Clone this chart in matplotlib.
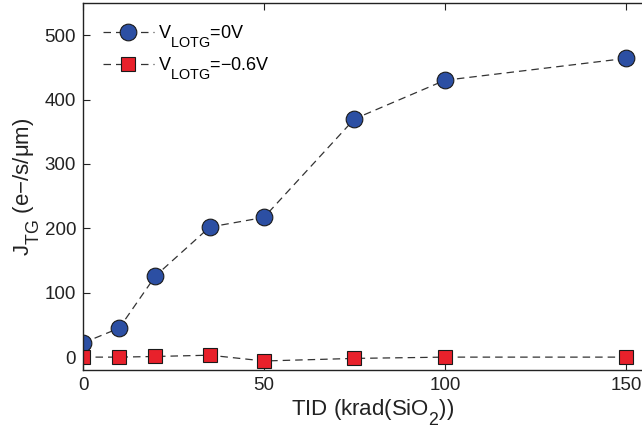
import matplotlib
matplotlib.use("Agg")
import matplotlib.pyplot as plt
import matplotlib._mathtext as mt

mt.SHRINK_FACTOR = 0.8
mt.FontConstantsBase.sub1 = 0.9
mt.FontConstantsBase.sub2 = 0.9

plt.rcParams['font.family'] = ['Liberation Sans', 'DejaVu Sans']
plt.rcParams['mathtext.fontset'] = 'custom'
plt.rcParams['mathtext.rm'] = 'Liberation Sans'
plt.rcParams['mathtext.it'] = 'Liberation Sans:italic'
plt.rcParams['mathtext.default'] = 'regular'

tid = [0, 10, 20, 35, 50, 75, 100, 150]
j_0v = [22, 45, 126, 202, 217, 370, 430, 464]
j_m06v = [0, 0, 1, 3, -6, -2, 0, 0]
series_labels = [r'V$_{\rm LOTG}$=0V', r'V$_{\rm LOTG}$=−0.6V']
xticks = [0, 50, 100, 150]
yticks = [0, 100, 200, 300, 400, 500]

fig = plt.figure(figsize=(6.42, 4.33), dpi=100)
ax = fig.add_axes([0.1293, 0.1455, 0.902, 0.8475])

ax.plot(tid, j_0v, linestyle=(0, (6, 4)), color='#333333', lw=0.9,
        marker='o', markersize=12, markerfacecolor='#2C4FA3',
        markeredgecolor='#1a1a1a', markeredgewidth=0.8, label=series_labels[0])
ax.plot(tid, j_m06v, linestyle=(0, (6, 4)), color='#333333', lw=0.9,
        marker='s', markersize=10, markerfacecolor='#E8212B',
        markeredgecolor='#1a1a1a', markeredgewidth=0.8, label=series_labels[1])

ax.set_xlim(0, 160)
ax.set_ylim(-20, 550)
ax.set_xticks(xticks)
ax.set_yticks(yticks)
ax.tick_params(direction='in', length=5, width=0.8, top=True, right=False,
               labelsize=13.5, colors='#222222', pad=5)
for s in ax.spines.values():
    s.set_linewidth(1.0)
    s.set_color('#222222')
ax.spines['right'].set_visible(False)

ax.set_xlabel(r'TID (krad(SiO$_2$))', fontsize=16, color='#222222', labelpad=2)
ax.set_ylabel(r'J$_{\rm TG}$ (e−/s/μm)', fontsize=16, color='#222222', labelpad=2)

leg = ax.legend(loc='upper left', frameon=False, fontsize=13, handlelength=2.8,
                handletextpad=0.25, borderaxespad=0.0, labelspacing=0.35,
                bbox_to_anchor=(0.022, 0.965))

fig.savefig('out.png', dpi=100)
